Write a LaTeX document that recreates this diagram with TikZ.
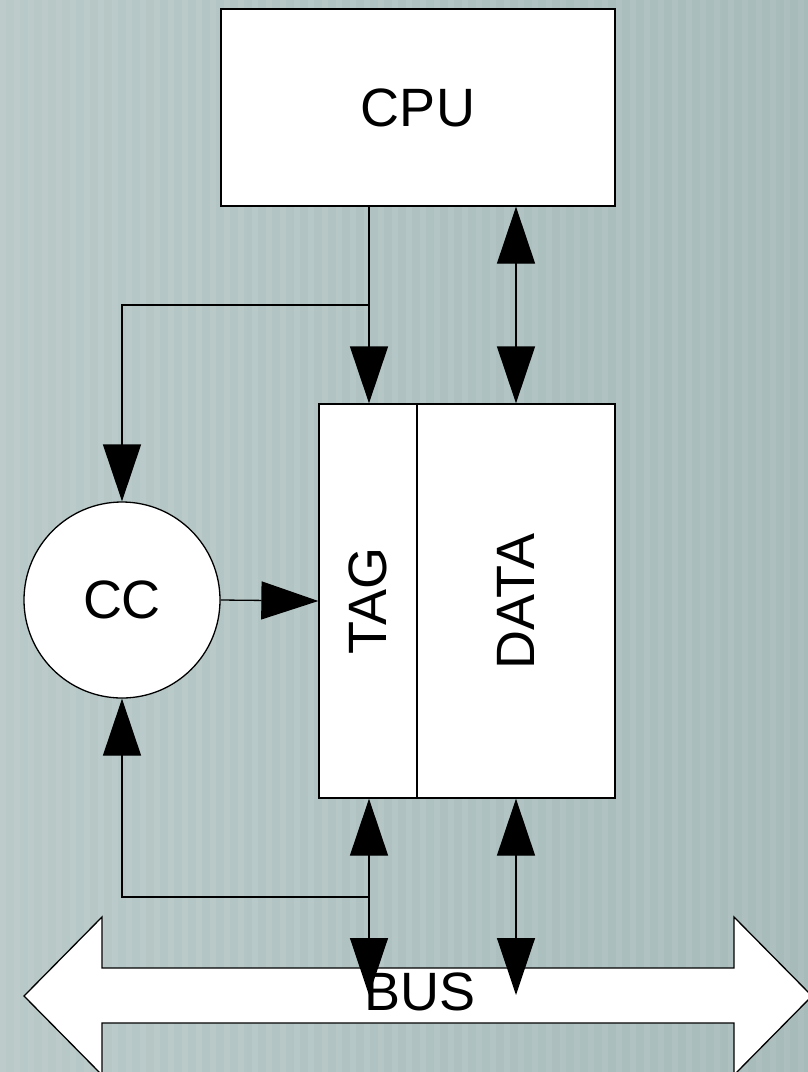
\documentclass[tikz,border=0pt]{standalone}
\usepackage{fontspec}
\setmainfont{Liberation Sans}
\usetikzlibrary{arrows.meta,positioning}
\definecolor{bgleft}{RGB}{184,201,200}
\definecolor{bgright}{RGB}{166,187,186}
\tikzset{
  box/.style={draw,fill=white,inner sep=0pt,font=\fontsize{54}{60}\selectfont},
  label/.style={inner sep=0pt,font=\fontsize{54}{60}\selectfont},
  onehead/.style={-{Triangle[length=57pt,width=38pt]}},
  twohead/.style={{Triangle[length=57pt,width=38pt]}-{Triangle[length=57pt,width=38pt]}},
}
\begin{document}
\begin{tikzpicture}[x=1pt,y=-1pt,line width=1.3pt]
\useasboundingbox (0,0) rectangle (808,1072);
\clip (0,0) rectangle (808,1072);
% background with faint stripes
\shade[left color=bgleft,right color=bgright,draw=none] (0,0) rectangle (808,1072);
\foreach \s in {0,14,...,808}
  \fill[white,opacity=0.07] (\s,0) rectangle (\s+6,1072);

% bus
\draw[fill=white] (24,996) -- (102,917) -- (102,968) -- (734,968) -- (734,917)
  -- (812,996) -- (734,1075) -- (734,1023) -- (102,1023) -- (102,1075) -- cycle;
\coordinate (busL) at (369,995);
\coordinate (busR) at (516,995);

% blocks
\node[box,minimum width=394pt,minimum height=197pt] (cpu) at (418,107.5) {CPU};
\node[box,minimum width=98pt,minimum height=394pt] (tag) at (368,601) {\rotatebox{90}{TAG}};
\node[box,minimum width=198pt,minimum height=394pt] (data) at (516,601) {\rotatebox{90}{DATA}};
\node[box,circle,minimum size=196pt] (cc) at (122,600) {CC};

% connections
\coordinate (topsplit) at (369,305);
\coordinate (botsplit) at (369,897);
\draw[onehead] (cpu.south -| topsplit) -- (tag.north -| topsplit);
\draw[onehead] (topsplit) -| (cc.north);
\draw[twohead] (cpu.south -| data) -- (data.north);
\draw[onehead] (cc.east) -- (tag.west);
\draw[twohead] (tag.south -| busL) -- (busL);
\draw[onehead] (botsplit) -| (cc.south);
\draw[twohead] (data.south) -- (busR);

\node[label] (buslabel) at (420,992) {BUS};
\end{tikzpicture}
\end{document}
